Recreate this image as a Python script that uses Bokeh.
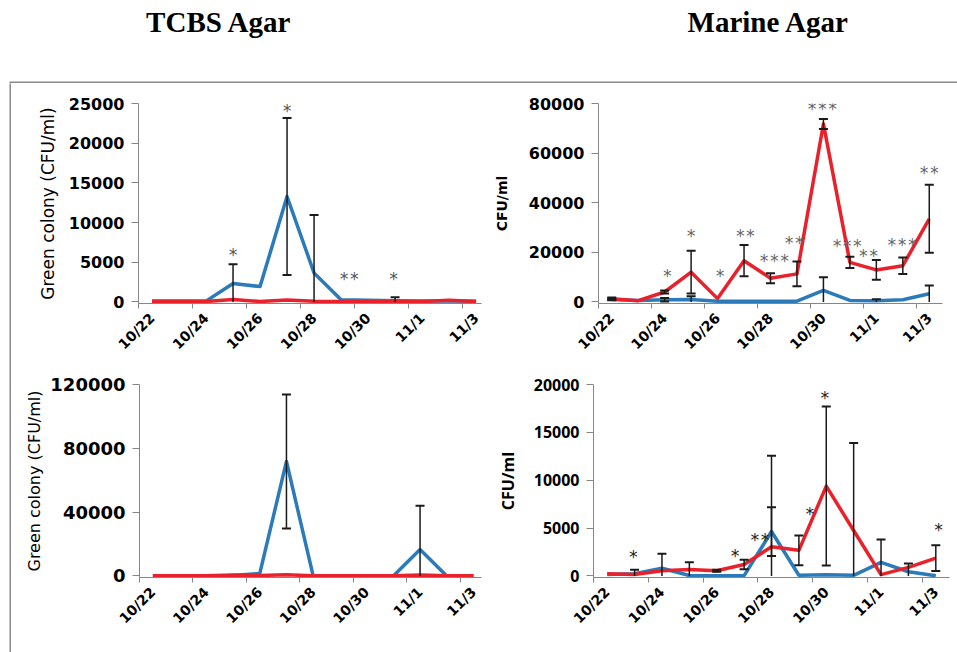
import math
from bokeh.plotting import figure
from bokeh.layouts import column, row
from bokeh.models import Range1d, FixedTicker, ColumnDataSource, LabelSet, BasicTickFormatter, Spacer
from bokeh.core.properties import value
from bokeh.embed import file_html
from bokeh.resources import INLINE

# ---------------- data ----------------
dates = ["10/22", "10/23", "10/24", "10/25", "10/26", "10/27", "10/28",
         "10/29", "10/30", "10/31", "11/1", "11/2", "11/3"]
tick_labels = ["10/22", "10/24", "10/26", "10/28", "10/30", "11/1", "11/3"]
titles = ["TCBS Agar", "Marine Agar"]

# TCBS agar, upper panel
tcbs_a_blue = [100, 100, 100, 2330, 1930, 13280, 3650, 280, 200, 150, 100, 100, 80]
tcbs_a_blue_err = [0, 0, 0, 2400, 0, 9900, 7300, 0, 0, 450, 0, 0, 0]
tcbs_a_red = [50, 50, 50, 300, 60, 250, 80, 50, 50, 50, 50, 200, 50]
tcbs_a_red_err = [0] * 13
tcbs_a_star_x = [3.5, 5.5, 7.8, 9.45]
tcbs_a_star_y = [5860, 24000, 2930, 2930]
tcbs_a_star_t = ["*", "*", "**", "*"]

# Marine agar, upper panel
marine_a_blue = [1000, 600, 900, 1000, 300, 250, 250, 300, 4650, 600, 500, 900, 3300]
marine_a_blue_err = [300, 0, 700, 1300, 0, 0, 0, 0, 5300, 0, 600, 0, 3300]
marine_a_red = [1300, 500, 4000, 12000, 1330, 16600, 9570, 11300, 71760, 15950, 12900, 14600, 33500]
marine_a_red_err = [500, 0, 650, 8600, 0, 6300, 2000, 5000, 2000, 2300, 4000, 3300, 13700]
marine_a_star_x = [2.6, 3.5, 4.6, 5.55, 6.65, 7.4, 8.46, 9.4, 10.2, 11.47, 12.5]
marine_a_star_y = [10600, 26400, 10600, 26600, 16600, 23900, 77700, 22600, 18600, 23000, 51800]
marine_a_star_t = ["*", "*", "*", "**", "***", "**", "***", "***", "**", "***", "**"]

# TCBS agar, lower panel
tcbs_b_blue = [200, 200, 200, 300, 1500, 71800, 0, 0, 0, 0, 16550, 0, 0]
tcbs_b_blue_err = [0, 0, 0, 0, 0, 42000, 0, 0, 0, 0, 27400, 0, 0]
tcbs_b_red = [100, 100, 100, 600, 300, 800, 100, 100, 100, 100, 600, 100, 100]
tcbs_b_red_err = [0] * 13
tcbs_b_star_x = [5.5]
tcbs_b_star_y = [121400]
tcbs_b_star_t = ["*"]

# Marine agar, lower panel
marine_b_blue = [150, 240, 810, 50, 30, 30, 4640, 70, 140, 70, 1420, 440, 20]
marine_b_blue_err = [0, 0, 1500, 0, 0, 0, 2550, 0, 0, 0, 2380, 850, 0]
marine_b_red = [240, 150, 540, 680, 540, 1200, 3050, 2680, 9390, 4750, 140, 900, 1860]
marine_b_red_err = [0, 500, 0, 740, 100, 500, 9500, 1560, 8300, 9150, 0, 0, 1350]
marine_b_star_x = [1.46, 5.17, 6.08, 7.9, 8.45, 12.6]
marine_b_star_y = [1930, 2100, 3800, 6500, 18600, 4800]
marine_b_star_t = ["*", "*", "**", "*", "*", "*"]

BLUE = "#2b7bba"
RED = "#e8212b"
AXIS = "#868686"
BORDER = "#8a8a8a"

xs = [i + 0.5 for i in range(len(dates))]
label_pos = xs[0::2]
minor_pos = [float(i) for i in range(0, len(dates), 2)]


def add_errors(p, vals, errs):
    xe = [x for x, e in zip(xs, errs) if e > 0]
    hi = [v + e for v, e in zip(vals, errs) if e > 0]
    lo = [max(v - e, 0) for v, e in zip(vals, errs) if e > 0]
    xl = [x for x, v, e in zip(xs, vals, errs) if e > 0 and v - e > 0]
    lo_c = [v - e for v, e in zip(vals, errs) if e > 0 and v - e > 0]
    if xe:
        p.segment(xe, lo, xe, hi, line_color="#1a1a1a", line_width=1.5)
        p.scatter(xe, hi, marker="dash", size=9, line_color="#1a1a1a", line_width=2)
    if xl:
        p.scatter(xl, lo_c, marker="dash", size=9, line_color="#1a1a1a", line_width=2)


def panel(w, h, borders, xmax, ymax, yticks, blue, blue_err, red, red_err,
          sx, sy, st, ylabel, ytick_font, ytick_size, ylab_font, ylab_size,
          ylab_style, ylab_standoff, star_color, xtick_size):
    p = figure(width=w, height=h, x_range=Range1d(0, xmax),
               y_range=Range1d(-ymax * 0.008, ymax),
               toolbar_location=None, output_backend="svg", title_location=None,
               min_border_left=borders[0], min_border_right=borders[1],
               min_border_top=borders[2], min_border_bottom=borders[3],
               outline_line_color=None, border_fill_color="white",
               background_fill_color="white")
    p.grid.visible = False
    p.line(xs, blue, line_color=BLUE, line_width=3.5, line_join="round")
    p.line(xs, red, line_color=RED, line_width=3.5, line_join="round")
    add_errors(p, blue, blue_err)
    add_errors(p, red, red_err)
    src = ColumnDataSource(dict(x=sx, y=sy, t=st))
    p.add_layout(LabelSet(x="x", y="y", text="t", source=src, text_align="center",
                          text_baseline="middle", text_font=value("DejaVu Sans Mono"),
                          text_font_size="17px", text_color=star_color))

    xa = p.xaxis[0]
    xa.ticker = FixedTicker(ticks=label_pos, minor_ticks=minor_pos)
    xa.major_label_overrides = {x: t for x, t in zip(label_pos, tick_labels)}
    xa.major_label_orientation = math.pi / 4
    xa.major_tick_line_color = None
    xa.minor_tick_line_color = AXIS
    xa.minor_tick_in = 0
    xa.minor_tick_out = 5
    xa.axis_line_color = AXIS
    xa.major_label_text_font = "DejaVu Sans"
    xa.major_label_text_font_style = "bold"
    xa.major_label_text_font_size = xtick_size
    xa.major_label_text_color = "black"
    xa.major_label_standoff = 6

    ya = p.yaxis[0]
    ya.ticker = FixedTicker(ticks=yticks)
    ya.formatter = BasicTickFormatter(use_scientific=False)
    ya.major_tick_line_color = AXIS
    ya.major_tick_in = 0
    ya.major_tick_out = 7
    ya.minor_tick_line_color = None
    ya.axis_line_color = AXIS
    ya.major_label_text_font = ytick_font
    ya.major_label_text_font_style = "bold"
    ya.major_label_text_font_size = ytick_size
    ya.major_label_text_color = "black"
    ya.major_label_standoff = 7
    ya.axis_label = ylabel
    ya.axis_label_text_font = ylab_font
    ya.axis_label_text_font_style = ylab_style
    ya.axis_label_text_font_size = ylab_size
    ya.axis_label_text_color = "black"
    ya.axis_label_standoff = ylab_standoff
    return p


tl = panel(479, 277, (127, 9, 17, 52), 12.7, 25000, [0, 5000, 10000, 15000, 20000, 25000],
           tcbs_a_blue, tcbs_a_blue_err, tcbs_a_red, tcbs_a_red_err,
           tcbs_a_star_x, tcbs_a_star_y, tcbs_a_star_t,
           "Green colony (CFU/ml)", "DejaVu Sans", "16px", "DejaVu Sans", "17px", "normal", 8,
           "#555555", "14px")
tr = panel(467, 277, (103, 15, 20, 54), 13, 80000, [0, 20000, 40000, 60000, 80000],
           marine_a_blue, marine_a_blue_err, marine_a_red, marine_a_red_err,
           marine_a_star_x, marine_a_star_y, marine_a_star_t,
           "CFU/ml", "DejaVu Sans", "16px", "DejaVu Sans", "14px", "bold", 16, "#666666", "14px")
bl = panel(479, 292, (128, 9, 24, 75), 12.8, 120000, [0, 40000, 80000, 120000],
           tcbs_b_blue, tcbs_b_blue_err, tcbs_b_red, tcbs_b_red_err,
           tcbs_b_star_x, tcbs_b_star_y, tcbs_b_star_t,
           "Green colony (CFU/ml)", "DejaVu Sans", "18px", "DejaVu Sans", "16px", "normal", 3,
           "#222222", "14px")
br = panel(467, 292, (103, 8, 21, 75), 13, 20000, [0, 5000, 10000, 15000, 20000],
           marine_b_blue, marine_b_blue_err, marine_b_red, marine_b_red_err,
           marine_b_star_x, marine_b_star_y, marine_b_star_t,
           "CFU/ml", "Open Sans", "16px", "Open Sans", "16px", "bold", 12, "#222222", "14px")

# header with titles and the top edge of the frame box
head = figure(width=957, height=83, x_range=Range1d(0, 957), y_range=Range1d(0, 83),
              min_border=0, toolbar_location=None, output_backend="svg", title_location=None,
              x_axis_type=None, y_axis_type=None, outline_line_color=None)
head.grid.visible = False
head.text(x=[218.5, 768], y=[62, 62], text=titles, text_align="center",
          text_baseline="alphabetic", text_font=value("Liberation Serif"),
          text_font_style="bold", text_font_size="29px", text_color="black")
head.quad(left=[9], right=[957], bottom=[0], top=[2], fill_color=BORDER, line_color=None)

left_edge = figure(width=2, height=569, min_border=0, toolbar_location=None, output_backend="svg",
                   title_location=None, x_axis_type=None, y_axis_type=None, outline_line_color=None,
                   background_fill_color=BORDER, border_fill_color=BORDER)
left_edge.grid.visible = False

layout = column(head,
                row(Spacer(width=9, height=569), left_edge,
                    column(row(tl, tr), row(bl, br))))

open("out.html", "w").write(file_html(layout, INLINE))
